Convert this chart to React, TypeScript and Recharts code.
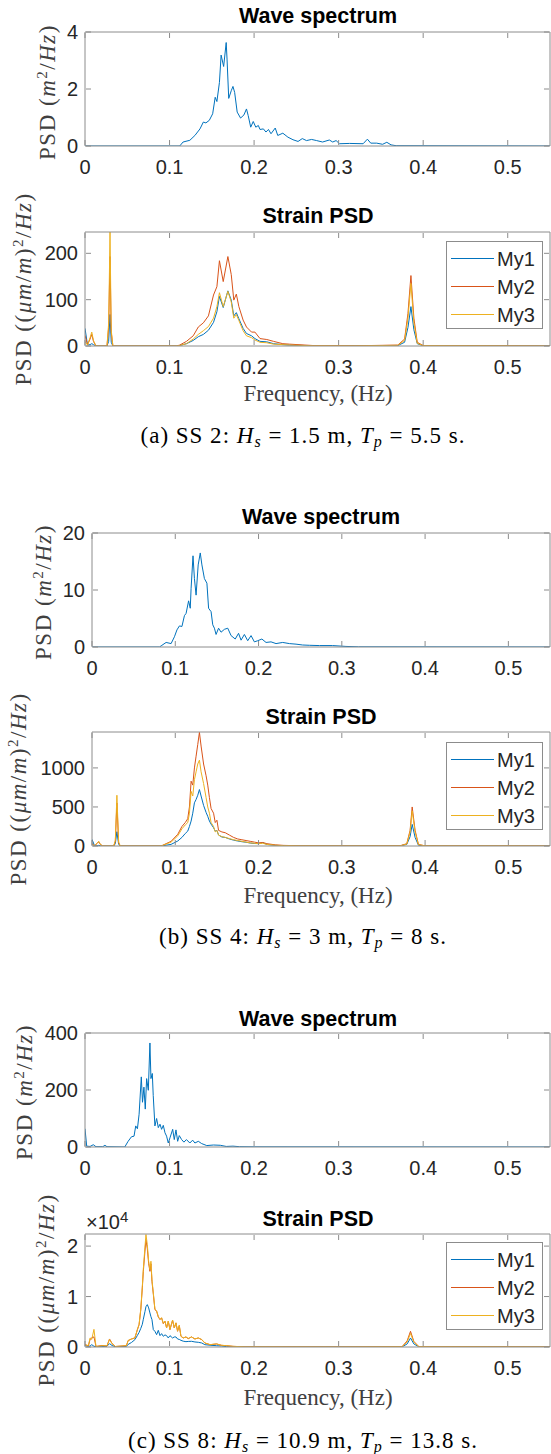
import React from "react";
import { LineChart, Line, XAxis, YAxis } from "recharts";

const BLUE = "#0072BD";
const ORANGE = "#D95319";
const YELLOW = "#EDB120";
const AX = "#8c8c8c";
const TXT = "#262626";
const SANS = "'Liberation Sans', Arial, Helvetica, sans-serif";
const SERIF = "'Liberation Serif', 'Times New Roman', serif";

const xTicks = [0, 0.1, 0.2, 0.3, 0.4, 0.5];

// ---- (a) SS 2 ----
const aWaveF = [0, 0.112, 0.116, 0.124, 0.13, 0.136, 0.14, 0.143, 0.147, 0.151, 0.154, 0.156, 0.159, 0.161, 0.164, 0.167, 0.168, 0.17, 0.173, 0.175, 0.177, 0.18, 0.184, 0.188, 0.191, 0.193, 0.196, 0.199, 0.202, 0.205, 0.207, 0.211, 0.214, 0.217, 0.22, 0.225, 0.228, 0.234, 0.24, 0.246, 0.252, 0.257, 0.262, 0.268, 0.274, 0.281, 0.289, 0.293, 0.297, 0.301, 0.313, 0.329, 0.334, 0.338, 0.345, 0.352, 0.357, 0.362, 0.368, 0.55];
const aWaveV = [0, 0, 0.14, 0.2, 0.37, 0.6, 0.84, 0.81, 0.9, 1.13, 1.71, 1.56, 2.23, 3.19, 2.79, 3.63, 3.05, 1.67, 1.94, 2.09, 1.88, 1.19, 0.98, 1.09, 1.3, 1.07, 0.66, 0.86, 0.66, 0.72, 0.58, 0.6, 0.49, 0.58, 0.43, 0.63, 0.37, 0.45, 0.31, 0.22, 0.16, 0.26, 0.19, 0.23, 0.19, 0.14, 0.21, 0.14, 0.19, 0.08, 0.09, 0.08, 0.24, 0.1, 0.1, 0.06, 0.13, 0.04, 0.01, 0];

const aStrainF = [0, 0.003, 0.006, 0.008, 0.01, 0.013, 0.026, 0.028, 0.0296, 0.031, 0.033, 0.108, 0.112, 0.12, 0.128, 0.134, 0.14, 0.146, 0.152, 0.156, 0.159, 0.1635, 0.169, 0.173, 0.176, 0.179, 0.182, 0.187, 0.191, 0.197, 0.201, 0.207, 0.215, 0.223, 0.234, 0.242, 0.27, 0.32, 0.37, 0.378, 0.382, 0.3855, 0.389, 0.393, 0.4, 0.55];
const aMy1 = [38, 2, 3, 5, 3, 0, 0, 10, 68, 8, 0, 0, 1, 5, 12, 20, 25, 34, 51, 74, 107, 83, 119, 99, 65, 72, 59, 38, 27, 22, 16, 10, 9, 5, 3, 2, 0.5, 0.3, 1, 8, 40, 85, 35, 5, 0.5, 0];
const aMy2 = [23, 3, 15, 25, 10, 0, 0, 40, 193, 30, 0, 0, 2, 10, 22, 41, 50, 65, 110, 128, 184, 139, 193, 154, 99, 112, 85, 56, 41, 30, 30, 16, 14, 10, 5, 4, 1, 0.5, 2, 15, 70, 152, 60, 8, 1, 0];
const aMy3 = [10, 2, 18, 30, 12, 0, 0, 50, 246, 35, 0, 0, 1, 5, 15, 25, 33, 42, 60, 85, 115, 85, 118, 95, 60, 68, 55, 33, 22, 18, 13, 8, 7, 4, 3, 2, 0.5, 0.3, 1.5, 12, 60, 135, 50, 6, 0.8, 0];

// ---- (b) SS 4 ----
const bWaveF = [0, 0.081, 0.083, 0.089, 0.095, 0.099, 0.102, 0.105, 0.108, 0.111, 0.113, 0.116, 0.118, 0.119, 0.1213, 0.123, 0.125, 0.1275, 0.13, 0.132, 0.135, 0.138, 0.14, 0.143, 0.145, 0.147, 0.149, 0.152, 0.155, 0.159, 0.163, 0.167, 0.172, 0.176, 0.179, 0.183, 0.187, 0.191, 0.195, 0.199, 0.204, 0.209, 0.215, 0.221, 0.229, 0.237, 0.245, 0.253, 0.261, 0.273, 0.289, 0.305, 0.32, 0.55];
const bWaveV = [0, 0, 0.2, 0.8, 0.6, 1.8, 3.0, 3.7, 3.6, 5.5, 5.9, 8.1, 6.8, 10.3, 16.0, 12.0, 9.1, 14.4, 16.5, 14.4, 12.0, 11.2, 6.8, 6.2, 3.9, 3.3, 2.2, 3.3, 2.6, 3.1, 3.3, 2.0, 1.4, 2.4, 1.2, 2.2, 1.1, 2.0, 0.9, 1.1, 1.4, 0.8, 0.9, 0.6, 0.8, 0.6, 0.5, 0.35, 0.3, 0.25, 0.25, 0.1, 0.03, 0];

const bStrainF = [0, 0.003, 0.006, 0.008, 0.01, 0.013, 0.026, 0.028, 0.0299, 0.032, 0.034, 0.083, 0.095, 0.103, 0.108, 0.112, 0.115, 0.117, 0.119, 0.121, 0.123, 0.125, 0.127, 0.129, 0.131, 0.134, 0.137, 0.139, 0.141, 0.143, 0.146, 0.148, 0.15, 0.152, 0.156, 0.16, 0.165, 0.17, 0.175, 0.18, 0.185, 0.19, 0.195, 0.2, 0.205, 0.21, 0.22, 0.23, 0.25, 0.3, 0.37, 0.378, 0.382, 0.3845, 0.388, 0.392, 0.4, 0.55];
const bMy1 = [85, 5, 3, 8, 3, 0, 0, 30, 183, 20, 0, 0, 21, 64, 110, 160, 191, 250, 319, 420, 553, 596, 650, 723, 640, 520, 430, 380, 320, 280, 234, 190, 200, 140, 115, 110, 90, 75, 64, 55, 48, 38, 32, 30, 43, 20, 8, 4, 2, 1, 2, 20, 120, 277, 110, 10, 1, 0];
const bMy2 = [30, 5, 30, 55, 20, 0, 0, 60, 550, 40, 0, 0, 60, 150, 250, 300, 350, 500, 830, 780, 1000, 1150, 1300, 1455, 1280, 1050, 900, 780, 620, 480, 420, 300, 330, 200, 180, 170, 140, 110, 90, 80, 70, 60, 50, 40, 45, 30, 15, 8, 3, 1, 3, 30, 200, 500, 200, 20, 2, 0];
const bMy3 = [20, 4, 35, 60, 22, 0, 0, 70, 650, 50, 0, 0, 50, 130, 220, 270, 300, 420, 700, 640, 850, 950, 1050, 1100, 950, 800, 620, 500, 420, 300, 250, 180, 200, 140, 120, 110, 95, 80, 70, 60, 50, 40, 35, 30, 35, 20, 10, 5, 2, 0.8, 2, 25, 180, 450, 180, 18, 2, 0];

// ---- (c) SS 8 ----
const cWaveF = [0, 0.002, 0.006, 0.0098, 0.013, 0.021, 0.0236, 0.026, 0.047, 0.051, 0.055, 0.058, 0.06, 0.062, 0.064, 0.0666, 0.068, 0.0697, 0.0713, 0.0729, 0.0749, 0.0768, 0.078, 0.0796, 0.0807, 0.0827, 0.0847, 0.0867, 0.0887, 0.0906, 0.0926, 0.0946, 0.0965, 0.0985, 0.1005, 0.1037, 0.1056, 0.1076, 0.1096, 0.1115, 0.1143, 0.117, 0.12, 0.124, 0.1273, 0.13, 0.134, 0.138, 0.144, 0.152, 0.16, 0.167, 0.175, 0.183, 0.2, 0.55];
const cWaveV = [64, 3, 2, 8, 1, 1, 6, 1, 0, 20, 36, 38, 74, 64, 115, 246, 157, 210, 133, 240, 199, 365, 240, 258, 181, 74, 100, 68, 80, 62, 76, 50, 38, 14, 32, 62, 26, 60, 20, 40, 26, 17, 26, 14, 24, 14, 20, 12, 5, 7, 6, 2, 3, 1, 0.5, 0];

const cStrainF = [0, 0.004, 0.006, 0.008, 0.0106, 0.013, 0.02, 0.026, 0.029, 0.032, 0.036, 0.049, 0.051, 0.055, 0.059, 0.062, 0.064, 0.066, 0.0678, 0.069, 0.0709, 0.0721, 0.0737, 0.0753, 0.0768, 0.078, 0.0792, 0.0808, 0.0827, 0.0847, 0.0867, 0.0887, 0.0906, 0.0926, 0.0946, 0.0965, 0.0985, 0.1005, 0.1036, 0.1056, 0.1076, 0.1095, 0.1115, 0.1135, 0.1162, 0.1194, 0.1221, 0.126, 0.13, 0.134, 0.138, 0.1418, 0.148, 0.1556, 0.1615, 0.1675, 0.175, 0.19, 0.3, 0.375, 0.381, 0.385, 0.389, 0.395, 0.55];
const cMy1 = [300, 100, 200, 460, 150, 50, 80, 150, 660, 300, 50, 130, 500, 900, 1450, 2300, 2900, 3700, 4500, 5500, 7000, 8000, 8400, 7750, 6750, 6000, 5430, 3440, 3110, 2450, 3310, 2250, 2650, 2120, 2400, 2250, 1790, 2250, 1790, 1990, 1990, 1590, 1500, 1320, 1150, 1060, 1100, 1130, 1000, 930, 800, 460, 350, 260, 200, 70, 40, 10, 3, 30, 600, 1790, 600, 40, 0];
const cMy2 = [500, 200, 1500, 1800, 2000, 100, 300, 200, 1590, 700, 100, 260, 1260, 1590, 1790, 3440, 4435, 7410, 11700, 15000, 19000, 21300, 19500, 16500, 15000, 16500, 13000, 10500, 7410, 7080, 5960, 5430, 5760, 4630, 5100, 3770, 5100, 3440, 5300, 3770, 4770, 3110, 4240, 2120, 1790, 1990, 1650, 1990, 1590, 1790, 1460, 790, 460, 600, 330, 260, 130, 30, 5, 60, 1200, 3110, 1100, 60, 0];
const cMy3 = [400, 300, 1800, 1500, 3500, 100, 250, 250, 1500, 650, 100, 260, 1300, 1600, 1800, 3500, 4500, 7600, 12000, 15500, 19800, 22300, 20300, 17000, 15360, 17000, 13370, 10720, 7500, 7200, 6000, 5500, 5800, 4700, 5150, 3800, 5150, 3500, 5350, 3800, 4800, 3150, 4300, 2150, 1800, 2000, 1700, 2000, 1600, 1800, 1500, 800, 470, 620, 340, 260, 130, 30, 5, 50, 1000, 2700, 950, 50, 0];

const legendNames = ["My1", "My2", "My3"];
const legendColors = [BLUE, ORANGE, YELLOW];

const pts = (f: number[], v: number[]) => f.map((x, i) => ({ f: x, v: v[i] }));

type S = { name: string; color: string; data: { f: number; v: number }[] };

// axes are 1px thick boxes so recharts still draws them; ticks point inward like MATLAB
const BottomTick = (p: any) => (
  <g>
    <line x1={p.x} x2={p.x} y1={p.y - 1} y2={p.y - 6} stroke={AX} />
    <text x={p.x} y={p.y + 28} textAnchor="middle" fontFamily={SANS} fontSize={20} fill={TXT}>
      {p.payload.value}
    </text>
  </g>
);
const TopTick = (p: any) => <line x1={p.x} x2={p.x} y1={p.y + 1} y2={p.y + 6} stroke={AX} />;
const RightTick = (p: any) => <line x1={p.x - 1} x2={p.x - 6} y1={p.y} y2={p.y} stroke={AX} />;
const leftTick = (fmt?: (v: number) => string) => (p: any) => (
  <g>
    <line x1={p.x + 1} x2={p.x + 6} y1={p.y} y2={p.y} stroke={AX} />
    <text x={p.x - 7} y={p.y + 7} textAnchor="end" fontFamily={SANS} fontSize={20} fill={TXT}>
      {fmt ? fmt(p.payload.value) : p.payload.value}
    </text>
  </g>
);

type PanelProps = {
  top: number; left: number; right: number; h: number;
  yMax: number; yTicks: number[]; yFmt?: (v: number) => string; series: S[];
};

function Panel({ top, left, right, h, yMax, yTicks, yFmt, series }: PanelProps) {
  const M = 40;
  return (
    <div style={{ position: "absolute", left: 0, top: top - M }}>
      <LineChart width={551} height={h + 2 * M}
        margin={{ top: M - 1, bottom: M - 1, left: left - 1, right: 551 - right - 1 }}>
        <XAxis xAxisId="b" dataKey="f" type="number" domain={[0, 0.55]} ticks={xTicks} interval={0}
          height={1} tickSize={0} tickMargin={0} axisLine={{ stroke: AX }} tickLine={false} tick={BottomTick} allowDataOverflow />
        <XAxis xAxisId="t" orientation="top" dataKey="f" type="number" domain={[0, 0.55]} ticks={xTicks} interval={0}
          height={1} tickSize={0} tickMargin={0} axisLine={{ stroke: AX }} tickLine={false} tick={TopTick} allowDataOverflow />
        <YAxis yAxisId="l" type="number" domain={[0, yMax]} ticks={yTicks} interval={0} width={1}
          tickSize={0} tickMargin={0} axisLine={{ stroke: AX }} tickLine={false} tick={leftTick(yFmt)} allowDataOverflow />
        <YAxis yAxisId="r" orientation="right" type="number" domain={[0, yMax]} ticks={yTicks} interval={0} width={1}
          tickSize={0} tickMargin={0} axisLine={{ stroke: AX }} tickLine={false} tick={RightTick} allowDataOverflow />
        {series.map((s) => (
          <Line key={s.name} xAxisId="b" yAxisId="l" data={s.data} dataKey="v" type="linear" stroke={s.color}
            strokeWidth={1} dot={false} activeDot={false} isAnimationActive={false} />
        ))}
      </LineChart>
    </div>
  );
}

const abs = (x: number, y: number, extra: React.CSSProperties = {}): React.CSSProperties => ({
  position: "absolute", left: x, top: y, transform: "translate(-50%, -50%)", whiteSpace: "nowrap", lineHeight: 1, ...extra,
});

const Title = ({ x, y, text }: { x: number; y: number; text: string }) => (
  <div style={abs(x, y, { fontFamily: SANS, fontWeight: "bold", fontSize: 21.5, color: "#000" })}>{text}</div>
);

const sup = { fontSize: 15, verticalAlign: "0.5em", lineHeight: 0 } as React.CSSProperties;
const sub = { fontSize: 16, fontStyle: "italic", verticalAlign: "-0.3em", lineHeight: 0 } as React.CSSProperties;
const rot = "translate(-50%, -50%) rotate(-90deg)";

const WaveLabel = ({ x, y }: { x: number; y: number }) => (
  <div style={abs(x, y, { fontFamily: SERIF, fontSize: 23, letterSpacing: 1.5, color: "#404040", transform: rot })}>
    PSD (<i>m</i><span style={sup}>2</span>/<i>Hz</i>)
  </div>
);
const StrainLabel = ({ x, y }: { x: number; y: number }) => (
  <div style={abs(x, y, { fontFamily: SERIF, fontSize: 23, letterSpacing: 1.5, color: "#404040", transform: rot })}>
    PSD ((<i>μm</i>/<i>m</i>)<span style={sup}>2</span>/<i>Hz</i>)
  </div>
);
const FreqLabel = ({ y }: { y: number }) => (
  <div style={abs(318, y, { fontFamily: SERIF, fontSize: 23, color: "#404040" })}>Frequency, (Hz)</div>
);
const Caption = ({ y, tag, hs, tp }: { y: number; tag: string; hs: string; tp: string }) => (
  <div style={abs(303, y, { fontFamily: SERIF, fontSize: 23, letterSpacing: 1, color: "#000" })}>
    {tag}: <i>H</i><span style={sub}>s</span> = {hs} m, <i>T</i><span style={sub}>p</span> = {tp} s.
  </div>
);

const LegendBox = ({ top }: { top: number }) => (
  <svg style={{ position: "absolute", left: 446, top }} width={97} height={88}>
    <rect x={0.5} y={0.5} width={96} height={87} fill="#fff" stroke={AX} />
    {legendNames.map((n, i) => (
      <g key={n}>
        <line x1={5} x2={48} y1={17.5 + i * 28} y2={17.5 + i * 28} stroke={legendColors[i]} strokeWidth={1.2} />
        <text x={51} y={24.5 + i * 28} fontFamily={SANS} fontSize={20} fill={TXT}>{n}</text>
      </g>
    ))}
  </svg>
);

export default function App() {
  const aS: S[] = [
    { name: "My1", color: BLUE, data: pts(aStrainF, aMy1) },
    { name: "My2", color: ORANGE, data: pts(aStrainF, aMy2) },
    { name: "My3", color: YELLOW, data: pts(aStrainF, aMy3) },
  ];
  const bS: S[] = [
    { name: "My1", color: BLUE, data: pts(bStrainF, bMy1) },
    { name: "My2", color: ORANGE, data: pts(bStrainF, bMy2) },
    { name: "My3", color: YELLOW, data: pts(bStrainF, bMy3) },
  ];
  const cS: S[] = [
    { name: "My1", color: BLUE, data: pts(cStrainF, cMy1) },
    { name: "My2", color: ORANGE, data: pts(cStrainF, cMy2) },
    { name: "My3", color: YELLOW, data: pts(cStrainF, cMy3) },
  ];
  return (
    <div style={{ position: "absolute", left: 0, top: 0, width: 551, height: 1454, background: "#fff", overflow: "hidden" }}>
      {/* (a) */}
      <Title x={318} y={17} text="Wave spectrum" />
      <Panel top={32} h={114} left={85} right={550} yMax={4} yTicks={[0, 2, 4]}
        series={[{ name: "wave", color: BLUE, data: pts(aWaveF, aWaveV) }]} />
      <WaveLabel x={47} y={92} />
      <Title x={318} y={217} text="Strain PSD" />
      <Panel top={232} h={114} left={85} right={550} yMax={246} yTicks={[0, 100, 200]} series={aS} />
      <StrainLabel x={23} y={289} />
      <LegendBox top={241} />
      <FreqLabel y={393} />
      <Caption y={435} tag="(a) SS 2" hs="1.5" tp="5.5" />

      {/* (b) */}
      <Title x={321} y={518} text="Wave spectrum" />
      <Panel top={533} h={114} left={92} right={550} yMax={20} yTicks={[0, 10, 20]}
        series={[{ name: "wave", color: BLUE, data: pts(bWaveF, bWaveV) }]} />
      <WaveLabel x={43} y={592} />
      <Title x={321} y={718} text="Strain PSD" />
      <Panel top={732} h={114} left={92} right={550} yMax={1460} yTicks={[0, 500, 1000]} series={bS} />
      <StrainLabel x={18} y={789} />
      <LegendBox top={742} />
      <FreqLabel y={895} />
      <Caption y={936} tag="(b) SS 4" hs="3" tp="8" />

      {/* (c) */}
      <Title x={318} y={1020} text="Wave spectrum" />
      <Panel top={1033} h={114} left={85} right={550} yMax={400} yTicks={[0, 200, 400]}
        series={[{ name: "wave", color: BLUE, data: pts(cWaveF, cWaveV) }]} />
      <WaveLabel x={24} y={1092} />
      <Title x={318} y={1220} text="Strain PSD" />
      <Panel top={1234} h={113} left={85} right={550} yMax={22400} yTicks={[0, 10000, 20000]}
        yFmt={(v) => String(v / 10000)} series={cS} />
      <div style={{ position: "absolute", left: 86, top: 1212, fontFamily: SANS, fontSize: 20, color: TXT, whiteSpace: "nowrap", lineHeight: 1 }}>
        ×10<span style={sup}>4</span>
      </div>
      <StrainLabel x={46} y={1290} />
      <LegendBox top={1242} />
      <FreqLabel y={1397} />
      <Caption y={1440} tag="(c) SS 8" hs="10.9" tp="13.8" />
    </div>
  );
}
